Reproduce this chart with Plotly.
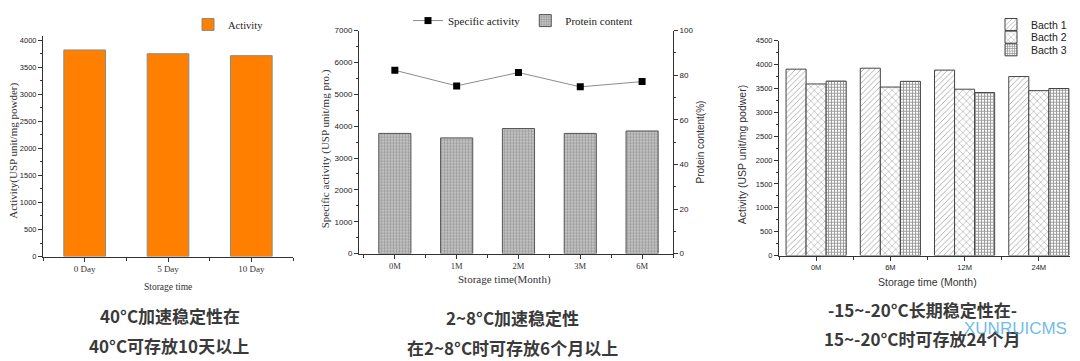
import plotly.graph_objects as go

W, H = 1080, 361


def px(x):
    return x / W


def py(y):
    return 1 - y / H


SERIF = "Liberation Serif"
SANS = "Liberation Sans"
CJK = "Noto Sans CJK SC"
AX = "#333333"

# ---------------- data ----------------
left_categories = ["0 Day", "5 Day", "10 Day"]
left_activity = [3820, 3750, 3715]

mid_categories = ["0M", "1M", "2M", "3M", "6M"]
mid_specific_activity = [5755, 5265, 5685, 5235, 5400]
mid_protein_content = [53.9, 51.9, 56.1, 53.9, 55.0]

right_categories = ["0M", "6M", "12M", "24M"]
batch1 = [3905, 3925, 3885, 3750]
batch2 = [3595, 3530, 3485, 3455]
batch3 = [3655, 3650, 3415, 3500]

captions = [
    ("40°C加速稳定性在", 170, 319),
    ("40°C可存放10天以上", 169, 350),
    ("2~8°C加速稳定性", 512, 322),
    ("在2~8°C时可存放6个月以上", 512, 352),
    ("-15~-20°C长期稳定性在-", 922, 313),
    ("15~-20°C时可存放24个月", 922, 343),
]

# ---------------- figure ----------------
fig = go.Figure()

lx = list(range(len(left_categories)))
fig.add_trace(go.Bar(
    x=lx, y=left_activity, name="Activity", xaxis="x", yaxis="y",
    width=0.5, marker=dict(color="#FF8000", line=dict(color="#8a8a8a", width=1)),
    legend="legend", showlegend=True,
))

mx = list(range(len(mid_categories)))
fig.add_trace(go.Scatter(
    x=mx, y=mid_specific_activity, name="Specific activity", xaxis="x2", yaxis="y2",
    mode="lines+markers", line=dict(color="#8c8c8c", width=1),
    marker=dict(symbol="square", size=7, color="#000000"),
    legend="legend2", showlegend=True,
))
fig.add_trace(go.Bar(
    x=mx, y=mid_protein_content, name="Protein content", xaxis="x2", yaxis="y4",
    width=0.52,
    marker=dict(color="#c0c0c0", line=dict(color="#555555", width=1),
                pattern=dict(shape=".", size=3, solidity=0.5, fgcolor="#666666", bgcolor="#cdcdcd")),
    legend="legend2", showlegend=True,
))

rx = list(range(len(right_categories)))
batches = [("Bacth 1", batch1, "/", 4, 0.2, -0.405, "legend3"),
           ("Bacth 2", batch2, "x", 5, 0.2, -0.135, "legend4"),
           ("Bacth 3", batch3, "+", 3, 0.55, 0.135, "legend5")]
for name, vals, shape, size, sol, off, leg in batches:
    fig.add_trace(go.Bar(
        x=rx, y=vals, name=name, xaxis="x3", yaxis="y3",
        width=0.27, offset=off,
        marker=dict(color="white", line=dict(color="#444444", width=1),
                    pattern=dict(shape=shape, size=size, solidity=sol, fgcolor="#3c3c3c", bgcolor="white")),
        legend=leg, showlegend=True,
    ))

axis_common = dict(showline=True, linecolor=AX, linewidth=1, ticks="outside",
                   ticklen=4, tickcolor=AX, showgrid=False, zeroline=False)

fig.update_layout(
    width=W, height=H, margin=dict(l=0, r=0, t=0, b=0), showlegend=True,
    paper_bgcolor="white", plot_bgcolor="white", barmode="overlay",
    xaxis=dict(domain=[px(43), px(293)], anchor="y", range=[-0.5, 2.5],
               tickmode="array", tickvals=lx, ticktext=left_categories,
               tickfont=dict(family=SERIF, size=9, color="#333"),
               minor=dict(tickmode="linear", tick0=0, dtick=0.5, ticks="outside", ticklen=3, tickcolor=AX),
               **axis_common),
    yaxis=dict(domain=[py(259), py(33)], anchor="x", range=[0, 4075], dtick=500,
               tickfont=dict(family=SANS, size=7.5, color="#222"),
               minor=dict(dtick=250, ticks="outside", ticklen=2, tickcolor=AX),
               **axis_common),
    xaxis2=dict(domain=[px(359), px(673)], anchor="y2", range=[-0.58, 4.5],
                tickmode="array", tickvals=mx, ticktext=mid_categories,
                tickfont=dict(family=SERIF, size=8.5, color="#333"),
                minor=dict(tickmode="linear", tick0=0, dtick=0.5, ticks="outside", ticklen=3, tickcolor=AX),
                **axis_common),
    yaxis2=dict(domain=[py(256), py(27.3)], anchor="x2", range=[0, 7000], dtick=1000,
                tickfont=dict(family=SANS, size=8, color="#222"),
                minor=dict(dtick=500, ticks="outside", ticklen=2, tickcolor=AX),
                **axis_common),
    yaxis4=dict(overlaying="y2", side="right", anchor="x2", range=[0, 100], dtick=20,
                tickfont=dict(family=SANS, size=8, color="#222"),
                minor=dict(dtick=10, ticks="outside", ticklen=2, tickcolor=AX),
                **axis_common),
    xaxis3=dict(domain=[px(779), px(1070)], anchor="y3", range=[-0.5, 3.42],
                tickmode="array", tickvals=rx, ticktext=right_categories,
                tickfont=dict(family=SANS, size=7.5, color="#222"),
                minor=dict(tickmode="linear", tick0=0, dtick=0.5, ticks="outside", ticklen=3, tickcolor=AX),
                **axis_common),
    yaxis3=dict(domain=[py(258), py(37.7)], anchor="x3", range=[0, 4500], dtick=500,
                tickfont=dict(family=SANS, size=7.5, color="#222"),
                minor=dict(dtick=250, ticks="outside", ticklen=2, tickcolor=AX),
                **axis_common),
    legend=dict(x=px(188), y=py(21), xanchor="left", yanchor="middle", visible=True,
                font=dict(family=SERIF, size=10.5, color="#222"), bgcolor="rgba(0,0,0,0)"),
    legend2=dict(x=px(408), y=py(17), xanchor="left", yanchor="middle", orientation="h",
                 font=dict(family=SERIF, size=11, color="#222"), bgcolor="rgba(0,0,0,0)"),
    legend3=dict(x=px(991), y=py(21), xanchor="left", yanchor="middle",
                 font=dict(family=SANS, size=10.5, color="#222"), bgcolor="rgba(0,0,0,0)"),
    legend4=dict(x=px(991), y=py(34), xanchor="left", yanchor="middle",
                 font=dict(family=SANS, size=10.5, color="#222"), bgcolor="rgba(0,0,0,0)"),
    legend5=dict(x=px(991), y=py(47), xanchor="left", yanchor="middle",
                 font=dict(family=SANS, size=10.5, color="#222"), bgcolor="rgba(0,0,0,0)"),
)

ann = []


def add_text(text, x, y, family, size, color="#333", angle=0, weight="normal"):
    ann.append(dict(text=text, x=px(x), y=py(y), xref="paper", yref="paper",
                    xanchor="center", yanchor="middle", showarrow=False, textangle=angle,
                    font=dict(family=family, size=size, color=color, weight=weight)))


add_text("Activity(USP unit/mg powder)", 13.5, 151, SERIF, 11, angle=-90)
add_text("Storage time", 167.5, 290, SERIF, 9.5)
add_text("Specific activity (USP unit/mg pro.)", 325, 149, SERIF, 11, angle=-90)
add_text("Protein content(%)", 700, 142, SANS, 10, angle=-90)
add_text("Storage time(Month)", 504, 283, SERIF, 11)
add_text("Activity (USP unit/mg podwer)", 742, 155, SANS, 10.5, angle=-90)
add_text("Storage time (Month)", 927, 285, SANS, 10.5)

for text, x, y in captions:
    add_text(text, x, y, CJK, 17, color="#3a3a3a", weight="bold")

add_text("XUNRUICMS", 1015, 333, SANS, 17, color="rgba(60,165,225,0.75)")

fig.update_layout(annotations=ann)

fig.write_html("out.html", config={"displayModeBar": False},
               post_script="document.body.style.margin='0px';document.body.style.overflow='hidden';")
